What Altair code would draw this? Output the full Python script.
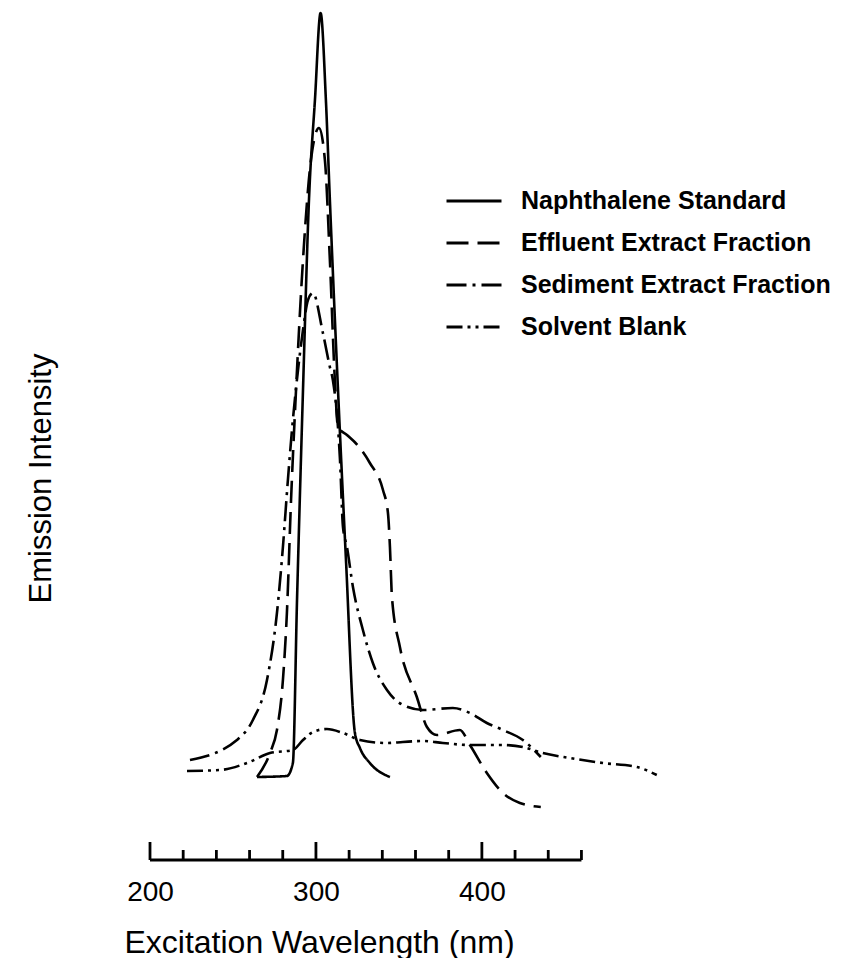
import altair as alt
import pandas as pd

series_names = ["Naphthalene Standard", "Effluent Extract Fraction",
                "Sediment Extract Fraction", "Solvent Blank"]
dash_styles = [[1, 0], [22, 9], [20, 6, 3, 6], [16, 5, 3, 5, 3, 5]]

naph_x = [264.5, 282.5, 286.1, 288.6, 292.2, 295.8, 299.4, 302.8, 306.0, 308.4,
          313.3, 318.1, 323.5, 326.5, 332.5, 344.6]
naph_y = [83, 84, 97, 260, 470, 660, 760, 847, 760, 660, 470, 300, 127, 112, 97, 83]

eff_x = [264.5, 272.3, 276.5, 280.1, 282.5, 285.0, 288.0, 292.2, 297.0, 301.8,
         305.4, 308.4, 311.4, 313.3, 318.7, 325.0, 332.5, 340.4, 343.4, 344.6,
         345.8, 350.6, 360.8, 366.9, 372.9, 386.7, 392.8, 403.0, 412.7, 422.9, 435.5]
eff_y = [83, 107, 130, 180, 247, 360, 470, 600, 700, 732, 700, 600, 480, 433, 425,
         415, 397, 370, 347, 313, 263, 213, 163, 133, 125, 130, 115, 87, 67, 57, 53]

sed_x = [224.1, 252.4, 262.0, 270.5, 276.5, 280.1, 283.1, 286.1, 289.2, 292.2,
         295.2, 298.2, 304.2, 308.4, 310.2, 314.5, 316.3, 318.7, 322.3, 328.3,
         334.3, 342.8, 352.4, 364.5, 382.5, 392.8, 403.0, 412.7, 424.7, 435.5]
sed_y = [100, 120, 140, 180, 247, 313, 380, 440, 490, 530, 560, 567, 527, 493, 480,
         400, 333, 313, 273, 230, 197, 170, 155, 150, 152, 147, 137, 130, 120, 103]

solv_x = [222.3, 242.2, 258.4, 272.3, 286.1, 292.2, 298.2, 306.6, 316.3, 326.5,
          342.8, 352.4, 364.5, 376.5, 392.8, 412.7, 424.7, 436.7, 453.0, 472.9,
          493.4, 505.4]
solv_y = [89, 90, 97, 107, 110, 120, 128, 131, 127, 120, 117, 118, 119, 117, 115,
          115, 113, 107, 102, 97, 93, 85]

tick_values = [200, 220, 240, 260, 280, 300, 320, 340, 360, 380, 400, 420, 440, 460]
major_ticks = [200, 300, 400]
axis_start = 200
axis_end = 460

rows = []
for name, xs, ys in zip(series_names, [naph_x, eff_x, sed_x, solv_x],
                        [naph_y, eff_y, sed_y, solv_y]):
    for i, (x, y) in enumerate(zip(xs, ys)):
        rows.append({"series": name, "wavelength": x, "intensity": y, "idx": i})
df = pd.DataFrame(rows)

major_df = pd.DataFrame({"wavelength": [t for t in tick_values if t in major_ticks]})
minor_df = pd.DataFrame({"wavelength": [t for t in tick_values if t not in major_ticks]})
base_df = pd.DataFrame({"wavelength": [axis_start], "wavelength_end": [axis_end]})

FONT = "Liberation Sans"
W, H = 531, 852

xscale = alt.Scale(domain=[200, 520], nice=False, zero=False)
xaxis = alt.Axis(values=major_ticks, tickSize=0, ticks=False, domain=False, grid=False,
                 labelFontSize=28, labelFont=FONT, labelColor="black", labelPadding=18,
                 labelFlush=False,
                 title="Excitation Wavelength (nm)", titleFont=FONT, titleFontSize=32,
                 titleFontWeight="normal", titleColor="black", titleX=169, titleY=92,
                 titleBaseline="alphabetic", titleAlign="center")

lines = alt.Chart(df).mark_line(interpolate="monotone", strokeWidth=2.6, color="black").encode(
    x=alt.X("wavelength:Q", scale=xscale, axis=xaxis),
    y=alt.Y("intensity:Q", scale=alt.Scale(domain=[0, H], nice=False),
            axis=alt.Axis(domain=False, ticks=False, labels=False, grid=False,
                          title="Emission Intensity", titleFont=FONT, titleFontSize=31,
                          titleFontWeight="normal", titleColor="black",
                          titleX=-109, titleY=470, titleAngle=270,
                          titleBaseline="middle", titleAlign="center")),
    strokeDash=alt.StrokeDash(
        "series:N",
        scale=alt.Scale(domain=series_names, range=dash_styles),
        legend=alt.Legend(title=None, orient="none", legendX=295, legendY=164,
                          symbolType="stroke", symbolSize=3025, symbolStrokeWidth=2.8,
                          symbolStrokeColor="black", labelFont=FONT, labelFontSize=25,
                          labelFontWeight="bold",
                          labelColor="black", labelLimit=500, labelOffset=18,
                          rowPadding=-14, padding=0)),
    order="idx:Q",
)

major = alt.Chart(major_df).mark_rule(strokeWidth=2.8, color="black").encode(
    x=alt.X("wavelength:Q", scale=xscale, axis=xaxis),
    y=alt.value(H), y2=alt.value(H - 18))
minor = alt.Chart(minor_df).mark_rule(strokeWidth=2.8, color="black").encode(
    x=alt.X("wavelength:Q", scale=xscale, axis=xaxis),
    y=alt.value(H), y2=alt.value(H - 10))
baseline = alt.Chart(base_df).mark_rule(strokeWidth=2.8, color="black").encode(
    x=alt.X("wavelength:Q", scale=xscale, axis=xaxis),
    x2="wavelength_end:Q",
    y=alt.value(H))

chart = alt.layer(lines, baseline, major, minor).properties(
    width=W, height=H,
    autosize=alt.AutoSizeParams(type="none"),
    padding={"left": 142, "top": 0, "right": 160, "bottom": 98},
    background="white",
).configure_view(strokeWidth=0)

chart.save("out.html", embed_options={"renderer": "svg", "actions": False})
